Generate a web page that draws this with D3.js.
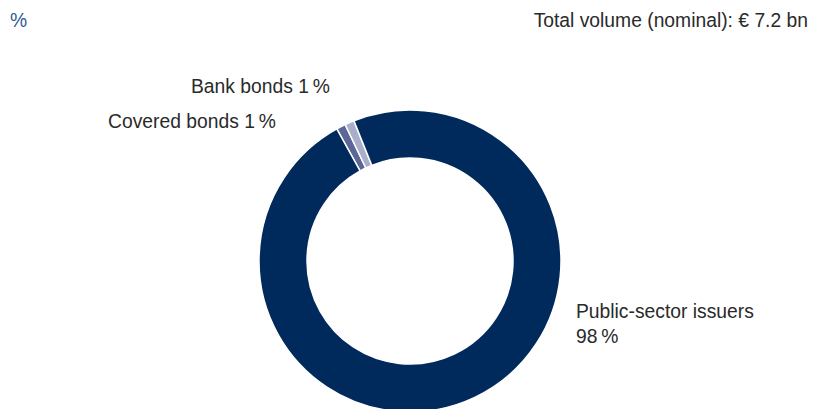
<!DOCTYPE html>
<html>
<head>
<meta charset="utf-8">
<script src="https://cdn.jsdelivr.net/npm/d3@7"></script>
<style>
  html, body { margin: 0; padding: 0; background: #fff; }
  svg { display: block; font-family: "Liberation Sans", Arial, sans-serif; }
</style>
</head>
<body>
<div id="chart"></div>
<script>
// Segment data, clockwise from the top-left
const segments = ["Covered bonds", "Bank bonds", "Public-sector issuers"];
const shares = [1, 1, 98];
const colors = ["#5b6796", "#a9aecb", "#002a5c"];

const unitLabel = "%";
const totalLabel = "Total volume (nominal): € 7.2 bn";

const width = 813, height = 409;
const cx = 410, cy = 261;
const outerR = 151, innerR = 103;
const fontSize = 19.3;

const svg = d3.select("#chart").append("svg")
    .attr("width", width)
    .attr("height", height);

// Header texts
svg.append("text")
    .attr("x", 10)
    .attr("y", 27)
    .attr("font-size", fontSize)
    .attr("fill", "#2f5b95")
    .text(unitLabel);

svg.append("text")
    .attr("x", 808)
    .attr("y", 27)
    .attr("text-anchor", "end")
    .attr("font-size", fontSize)
    .attr("fill", "#2a2a2a")
    .text(totalLabel);

// Donut
const pie = d3.pie()
    .sort(null)
    .startAngle(-29 * Math.PI / 180)
    .endAngle(331 * Math.PI / 180)
    .value(d => d);

const arc = d3.arc()
    .innerRadius(innerR)
    .outerRadius(outerR);

const arcs = pie(shares);

const g = svg.append("g")
    .attr("transform", `translate(${cx},${cy})`);

g.selectAll("path")
  .data(arcs)
  .enter()
  .append("path")
    .attr("d", arc)
    .attr("fill", (d, i) => colors[i])
    .attr("stroke", "#fff")
    .attr("stroke-width", 1.5);

// Labels (anchor offsets are layout, not data)
const labelPos = [
  { x: 108, y: 128, anchor: "start" },
  { x: 191, y: 93, anchor: "start" },
  { x: 576, y: 318, anchor: "start" }
];

arcs.forEach((d, i) => {
  const p = labelPos[i];
  const t = svg.append("text")
      .attr("x", p.x)
      .attr("y", p.y)
      .attr("text-anchor", p.anchor)
      .attr("font-size", fontSize)
      .attr("fill", "#2a2a2a");
  const pct = `${shares[i]}\u2009%`;
  if (i === 2) {
    t.append("tspan").attr("x", p.x).text(segments[i]);
    t.append("tspan").attr("x", p.x).attr("dy", 25).text(pct);
  } else {
    t.text(`${segments[i]} ${pct}`);
  }
});
</script>
</body>
</html>
